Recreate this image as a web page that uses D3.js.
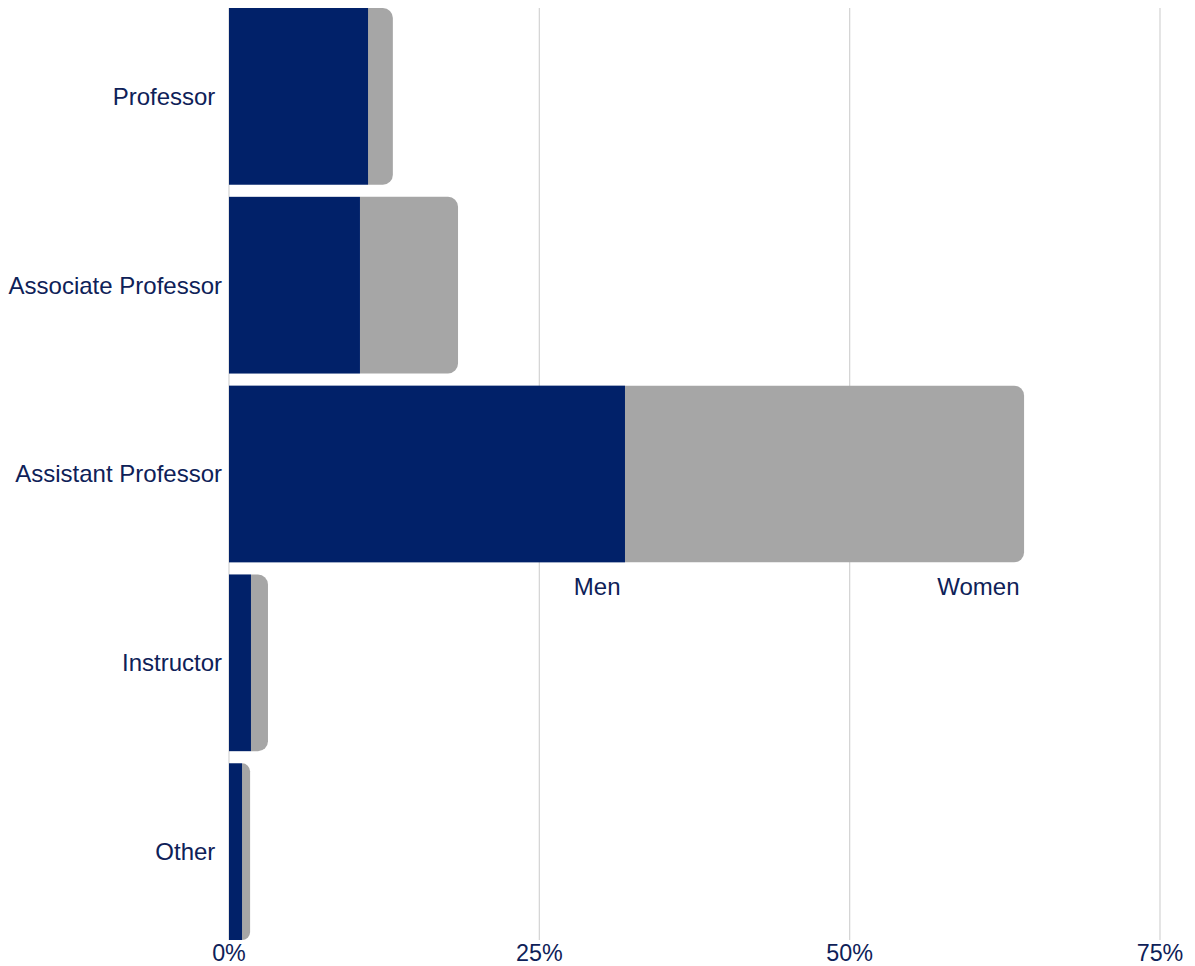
<!DOCTYPE html>
<html>
<head>
<meta charset="utf-8">
<script src="https://cdn.jsdelivr.net/npm/d3@7"></script>
<style>
  body { margin: 0; background: #fff; }
  text { font-family: "Liberation Sans", Arial, sans-serif; }
</style>
</head>
<body>
<svg id="chart"></svg>
<script>
const categories = ["Professor", "Associate Professor", "Assistant Professor", "Instructor", "Other"];
const menValues = [11.2, 10.55, 31.9, 1.77, 1.05];
const womenValues = [2.0, 7.9, 32.15, 1.37, 0.65];
const tickValues = [0, 25, 50, 75];
const seriesNames = ["Men", "Women"];

const width = 1195, height = 966;
const margin = { top: 8, right: 35, bottom: 26, left: 229 };
const navy = "#012169", gray = "#a6a6a6", textColor = "#0e2158";
const labelSize = 24, tickSize = 23.3;

const svg = d3.select("#chart").attr("width", width).attr("height", height);

const x = d3.scaleLinear().domain([0, 75]).range([margin.left, width - margin.right]);
const y = d3.scaleBand().domain(categories)
    .range([margin.top, height - margin.bottom])
    .paddingInner(0.064).paddingOuter(0);

// gridlines
svg.append("g")
    .selectAll("line")
    .data(tickValues)
    .join("line")
    .attr("x1", d => x(d)).attr("x2", d => x(d))
    .attr("y1", margin.top).attr("y2", height - margin.bottom)
    .attr("stroke", "#d3d3d3").attr("stroke-width", 1.2);

const rows = categories.map((c, i) => ({ cat: c, men: menValues[i], women: womenValues[i] }));

// rounded right end only
function rightRounded(x0, y0, w, h, r) {
    r = Math.min(r, w, h / 2);
    return `M${x0},${y0}H${x0 + w - r}A${r},${r} 0 0 1 ${x0 + w},${y0 + r}` +
        `V${y0 + h - r}A${r},${r} 0 0 1 ${x0 + w - r},${y0 + h}H${x0}Z`;
}

const bars = svg.append("g");
bars.selectAll(".women")
    .data(rows)
    .join("path")
    .attr("class", "women")
    .attr("fill", gray)
    .attr("d", d => rightRounded(x(d.men), y(d.cat), x(d.men + d.women) - x(d.men), y.bandwidth(), 10));

bars.selectAll(".men")
    .data(rows)
    .join("rect")
    .attr("class", "men")
    .attr("fill", navy)
    .attr("x", x(0))
    .attr("y", d => y(d.cat))
    .attr("width", d => x(d.men) - x(0))
    .attr("height", y.bandwidth());

// category labels
svg.append("g")
    .selectAll("text")
    .data(categories)
    .join("text")
    .attr("x", margin.left - 7)
    .attr("y", d => y(d) + y.bandwidth() / 2)
    .attr("dy", "0.35em")
    .attr("text-anchor", "end")
    .style("white-space", "pre")
    .attr("fill", textColor)
    .attr("font-size", labelSize)
    .text(d => (d === "Professor" || d === "Other") ? d + " " : d);

// x axis tick labels
svg.append("g")
    .selectAll("text")
    .data(tickValues)
    .join("text")
    .attr("x", d => x(d))
    .attr("y", height - 5)
    .attr("text-anchor", "middle")
    .attr("fill", textColor)
    .attr("font-size", tickSize)
    .text(d => d + "%");

// series labels under the largest bar
const big = rows[2];
const labelEnds = [big.men, big.men + big.women];
svg.append("g")
    .selectAll("text")
    .data(seriesNames)
    .join("text")
    .attr("x", (d, i) => x(labelEnds[i]) - 4.5)
    .attr("y", y(big.cat) + y.bandwidth() + 33)
    .attr("text-anchor", "end")
    .attr("fill", textColor)
    .attr("font-size", labelSize)
    .text(d => d);
</script>
</body>
</html>
